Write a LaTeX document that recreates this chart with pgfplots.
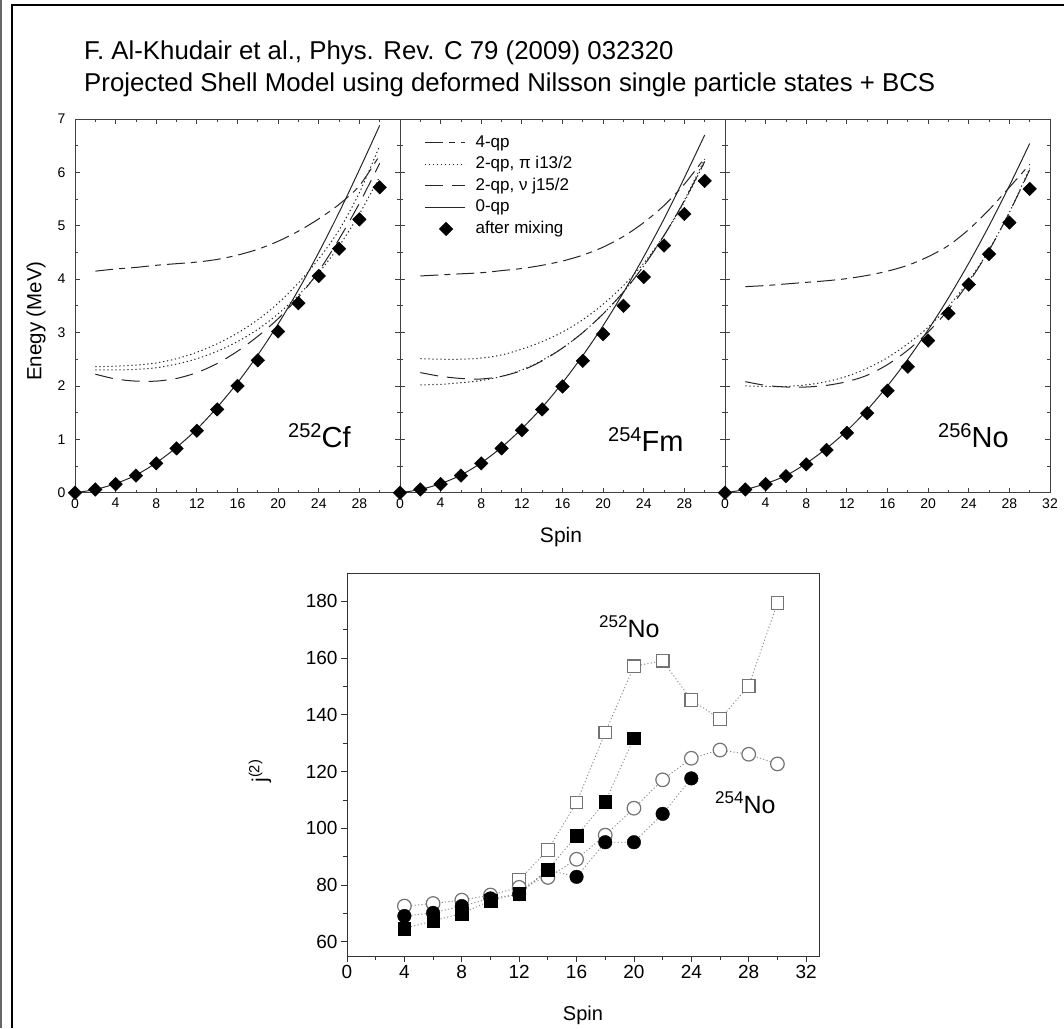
\documentclass[border=0pt]{standalone}
\usepackage{fontspec}
\setmainfont{Liberation Sans}
\usepackage{pgfplots}
\pgfplotsset{compat=1.18}
\newcommand\fs[1]{\fontsize{#1}{#1}\selectfont}
\pgfplotsset{
  toppanel/.style={
    scale only axis, width=325pt, height=373.7pt, anchor=south west,
    xmin=0, xmax=32, ymin=0, ymax=7,
    xtick={0,4,...,28}, minor xtick={2,6,...,30},
    ytick={0,...,7}, minor ytick={0.5,1.5,...,6.5},
    tick align=inside, major tick length=5pt, minor tick length=3pt,
    axis line style={draw=black!75, line width=0.9pt},
    every tick/.style={black!75, line width=0.8pt},
    tick label style={font=\fs{14}},
    xticklabel style={yshift=-2pt},
    yticklabel style={xshift=-6pt},
    /pgf/number format/assume math mode=true,
  },
  qp4/.style={black!85, line width=1pt, smooth, dash pattern=on 18pt off 6pt on 6pt off 6pt},
  pidot/.style={black!85, line width=1pt, smooth, dash pattern=on 1.3pt off 2.7pt},
  nudash/.style={black!85, line width=1pt, smooth, dash pattern=on 18pt off 9pt},
  qp0/.style={black!85, line width=1pt, smooth},
  mix/.style={only marks, mark=square*, mark size=4.8pt, mark options={rotate=45, fill=black, draw=black}},
  lineleg/.style={legend image code/.code={\draw[##1] (0pt,0pt) -- (40pt,0pt);}},
  markleg/.style={legend image code/.code={\draw[##1] plot coordinates {(21pt,0pt)};}},
}
\begin{document}
\begin{tikzpicture}
\useasboundingbox (0pt,0pt) rectangle (1064pt,1028pt);
% frame
\draw[black!60, line width=1.5pt] (0.75pt,0pt) -- (0.75pt,1028pt);
\draw[black, line width=2pt] (11.5pt,0pt) -- (11.5pt,1023pt) -- (1064pt,1023pt);
% title
\node[anchor=base west, inner sep=0pt] at (84pt,968pt) {\fs{25.8}F. Al-Khudair et al., Phys. Rev. C 79 (2009) 032320};
\node[anchor=base west, inner sep=0pt] at (84pt,936pt) {\fs{25.8}Projected Shell Model using deformed Nilsson single particle states + BCS};

% ---------- panel 1: 252Cf
\begin{axis}[toppanel, at={(75pt,535.3pt)}]
\addplot[qp4] coordinates {(2,4.15)(4,4.19)(6,4.22)(8,4.26)(10,4.29)(12,4.32)(14,4.37)(16,4.45)(18,4.56)(20,4.71)(22,4.9)(24,5.13)(26,5.4)(28,5.75)(30,6.32)};
\addplot[pidot] coordinates {(2,2.36)(4,2.37)(6,2.39)(8,2.43)(10,2.51)(12,2.63)(14,2.79)(16,2.99)(18,3.24)(20,3.55)(22,3.93)(24,4.38)(26,4.92)(28,5.62)(30,6.5)};
\addplot[pidot] coordinates {(2,2.3)(4,2.3)(6,2.31)(8,2.34)(10,2.41)(12,2.51)(14,2.65)(16,2.83)(18,3.06)(20,3.35)(22,3.7)(24,4.12)(26,4.62)(28,5.22)(30,5.92)};
\addplot[nudash] coordinates {(2,2.22)(4,2.13)(6,2.09)(8,2.09)(10,2.14)(12,2.25)(14,2.42)(16,2.65)(18,2.93)(20,3.26)(22,3.66)(24,4.15)(26,4.75)(28,5.42)(30,6.17)};
\addplot[qp0] coordinates {(0,0)(2,0.06)(4,0.17)(6,0.33)(8,0.56)(10,0.85)(12,1.19)(14,1.6)(16,2.06)(18,2.58)(20,3.16)(22,3.8)(24,4.5)(26,5.25)(28,6.05)(30,6.88)};
\addplot[mix] coordinates {(0,0)(2,0.06)(4,0.16)(6,0.32)(8,0.55)(10,0.83)(12,1.16)(14,1.56)(16,2.0)(18,2.48)(20,3.02)(22,3.55)(24,4.06)(26,4.57)(28,5.12)(30,5.72)};
\end{axis}

% ---------- panel 2: 254Fm
\begin{axis}[toppanel, at={(400pt,535.3pt)}, yticklabels={},
  legend cell align=left,
  legend style={at={(axis cs:2.4,6.70)}, anchor=north west, draw=none, fill=none,
    font=\fs{17}, row sep=6pt, inner sep=0pt,
    nodes={inner sep=0pt, text height=12pt, text depth=3.5pt},
    /tikz/every odd column/.style={column sep=10pt}}]
\addplot[qp4, lineleg] coordinates {(2,4.06)(4,4.08)(6,4.1)(8,4.12)(10,4.16)(12,4.2)(14,4.26)(16,4.34)(18,4.45)(20,4.6)(22,4.8)(24,5.06)(26,5.38)(28,5.78)(30,6.27)};
\addlegendentry{4-qp}
\addplot[pidot, lineleg] coordinates {(2,2.51)(4,2.5)(6,2.5)(8,2.52)(10,2.58)(12,2.69)(14,2.83)(16,3.01)(18,3.24)(20,3.53)(22,3.88)(24,4.3)(26,4.82)(28,5.45)(30,6.2)};
\addlegendentry{2-qp, π i13/2}
\addplot[nudash, lineleg] coordinates {(2,2.25)(4,2.18)(6,2.14)(8,2.13)(10,2.18)(12,2.29)(14,2.47)(16,2.71)(18,3.0)(20,3.35)(22,3.76)(24,4.25)(26,4.82)(28,5.47)(30,6.2)};
\addlegendentry{2-qp, ν j15/2}
\addplot[qp0, lineleg] coordinates {(0,0)(2,0.06)(4,0.17)(6,0.33)(8,0.56)(10,0.85)(12,1.2)(14,1.6)(16,2.06)(18,2.57)(20,3.13)(22,3.75)(24,4.42)(26,5.13)(28,5.9)(30,6.7)};
\addlegendentry{0-qp}
\addplot[mix, markleg] coordinates {(0,0)(2,0.06)(4,0.16)(6,0.32)(8,0.55)(10,0.83)(12,1.17)(14,1.56)(16,1.99)(18,2.47)(20,2.97)(22,3.5)(24,4.04)(26,4.63)(28,5.22)(30,5.84)};
\addlegendentry{after mixing}
\addplot[pidot, forget plot] coordinates {(2,2.02)(4,2.03)(6,2.06)(8,2.1)(10,2.18)(12,2.3)(14,2.48)(16,2.71)(18,3.0)(20,3.35)(22,3.76)(24,4.25)(26,4.82)(28,5.48)(30,6.25)};
\end{axis}

% ---------- panel 3: 256No
\begin{axis}[toppanel, at={(725pt,535.3pt)}, yticklabels={}, xtick={0,4,...,32}]
\addplot[qp4] coordinates {(2,3.86)(4,3.88)(6,3.91)(8,3.94)(10,3.97)(12,4.01)(14,4.07)(16,4.15)(18,4.26)(20,4.42)(22,4.63)(24,4.93)(26,5.3)(28,5.72)(30,6.15)};
\addplot[pidot] coordinates {(2,2.0)(4,1.99)(6,1.99)(8,2.02)(10,2.08)(12,2.18)(14,2.33)(16,2.53)(18,2.79)(20,3.1)(22,3.49)(24,3.97)(26,4.55)(28,5.25)(30,6.08)};
\addplot[nudash] coordinates {(2,2.08)(4,2.01)(6,1.98)(8,1.98)(10,2.01)(12,2.08)(14,2.2)(16,2.4)(18,2.67)(20,3.01)(22,3.43)(24,3.94)(26,4.54)(28,5.25)(30,6.05)};
\addplot[qp0] coordinates {(0,0)(2,0.06)(4,0.17)(6,0.32)(8,0.55)(10,0.83)(12,1.16)(14,1.55)(16,2.0)(18,2.5)(20,3.05)(22,3.65)(24,4.3)(26,5.0)(28,5.75)(30,6.54)};
\addplot[mix] coordinates {(0,0)(2,0.06)(4,0.16)(6,0.31)(8,0.53)(10,0.8)(12,1.12)(14,1.49)(16,1.91)(18,2.36)(20,2.85)(22,3.36)(24,3.9)(26,4.47)(28,5.06)(30,5.69)};
\end{axis}

% labels for top panels
\node[rotate=90, inner sep=0pt] at (36pt,707pt) {\fs{20.5}Enegy (MeV)};
\node[anchor=base, inner sep=0pt] at (561pt,485pt) {\fs{21}Spin};
\node[anchor=base west, inner sep=0pt] at (288pt,580pt) {\raisebox{10pt}{\fs{20}252}\fs{29}Cf};
\node[anchor=base west, inner sep=0pt] at (608pt,576pt) {\raisebox{10pt}{\fs{20}254}\fs{29}Fm};
\node[anchor=base west, inner sep=0pt] at (938pt,580pt) {\raisebox{10pt}{\fs{20}256}\fs{29}No};

% ---------- bottom panel
\begin{axis}[at={(347pt,72pt)}, anchor=south west, scale only axis, width=472pt, height=383pt,
  xmin=0, xmax=32.9, ymin=55, ymax=190,
  xtick={0,4,...,32}, minor xtick={2,6,...,30},
  ytick={60,80,...,180}, minor ytick={70,90,...,170},
  xtick pos=bottom, ytick pos=left, tick align=outside,
  major tick length=6pt, minor tick length=4pt,
  axis line style={draw=black!80, line width=0.9pt},
  every tick/.style={black!80, line width=0.8pt},
  tick label style={font=\fs{19}},
  /pgf/number format/assume math mode=true]
\addplot[black!45, line width=0.9pt, dash pattern=on 1.2pt off 2.2pt, forget plot] coordinates {(12,81.8)(14,92.4)(16,109.1)(18,133.8)(20,157.1)(22,159.1)(24,145.3)(26,138.5)(28,150.2)(30,179.4)};
\addplot[black!45, line width=0.9pt, dash pattern=on 1.2pt off 2.2pt, forget plot] coordinates {(4,64.7)(6,67.4)(8,70.0)(10,74.5)(12,77)(14,85.5)(16,97.3)(18,109.4)(20,131.8)};
\addplot[black!45, line width=0.9pt, dash pattern=on 1.2pt off 2.2pt, forget plot] coordinates {(4,72.6)(6,73.5)(8,74.7)(10,76.5)(12,79.2)(14,82.7)(16,89.1)(18,97.6)(20,107.1)(22,117.1)(24,124.7)(26,127.6)(28,126.1)(30,122.7)};
\addplot[black!45, line width=0.9pt, dash pattern=on 1.2pt off 2.2pt, forget plot] coordinates {(4,69.1)(6,70.2)(8,72.6)(10,75.3)(12,76.8)(14,85.3)(16,82.9)(18,95.1)(20,95.1)(22,105.1)(24,117.6)};
\addplot[only marks, mark=square*, mark size=6.3pt, mark options={fill=white, draw=black!55, line width=1.2pt}] coordinates {(12,81.8)(14,92.4)(16,109.1)(18,133.8)(20,157.1)(22,159.1)(24,145.3)(26,138.5)(28,150.2)(30,179.4)};
\addplot[only marks, mark=*, mark size=6.8pt, mark options={fill=white, draw=black!55, line width=1.2pt}] coordinates {(4,72.6)(6,73.5)(8,74.7)(10,76.5)(12,79.2)(14,82.7)(16,89.1)(18,97.6)(20,107.1)(22,117.1)(24,124.7)(26,127.6)(28,126.1)(30,122.7)};
\addplot[only marks, mark=square*, mark size=6.3pt, mark options={fill=black, draw=black}] coordinates {(4,64.7)(6,67.4)(8,70.0)(10,74.5)(12,77)(14,85.5)(16,97.3)(18,109.4)(20,131.8)};
\addplot[only marks, mark=*, mark size=6.8pt, mark options={fill=black, draw=black}] coordinates {(4,69.1)(6,70.2)(8,72.6)(10,75.3)(12,76.8)(14,85.3)(16,82.9)(18,95.1)(20,95.1)(22,105.1)(24,117.6)};
\end{axis}
\node[anchor=base, inner sep=0pt] at (583pt,8pt) {\fs{20}Spin};
\node[rotate=90, inner sep=0pt] at (260pt,257pt) {\fs{21}j\textsuperscript{(2)}};
\node[anchor=base west, inner sep=0pt] at (599pt,390pt) {\raisebox{10pt}{\fs{17}252}\fs{25}No};
\node[anchor=base west, inner sep=0pt] at (715pt,214.7pt) {\raisebox{10pt}{\fs{17}254}\fs{25}No};
\end{tikzpicture}
\end{document}
